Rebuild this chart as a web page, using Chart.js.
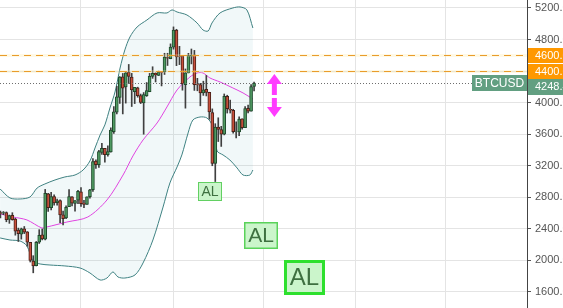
<!DOCTYPE html>
<html>
<head>
<meta charset="utf-8">
<script src="https://cdn.jsdelivr.net/npm/chart.js@4.4.1/dist/chart.umd.min.js"></script>
<style>
  html, body { margin: 0; padding: 0; background: #fff; }
  canvas { display: block; }
</style>
</head>
<body>
<canvas id="chart" width="563" height="308"></canvas>
<script>
// BTCUSD daily candles, 4 Jul 2017 .. 28 Sep 2017 (day 0 = 1 Jul)
const firstDay = 3;
const opens = [
  2500, 2605, 2600, 2608, 2520, 2572, 2525, 2385, 2333, 2402, 2361, 2230, 1992, 1933,
  2233, 2323, 2270, 2845, 2669, 2808, 2733, 2757, 2578, 2539, 2680, 2807, 2724, 2763,
  2871, 2727, 2710, 2807, 2898, 3258, 3213, 3370, 3420, 3342, 3374, 3633, 3880, 4067,
  4327, 4200, 4384, 4324, 4138, 4189, 4090, 3998, 4089, 4138, 4333, 4372, 4346, 4384,
  4389, 4570, 4556,
  4702, 4920, 4585, 4592, 4228, 4377, 4589, 4605, 4230, 4229, 4122, 4169, 4132, 3875,
  3230, 3690, 3660, 3600, 4080, 3916, 3901, 3628, 3630, 3796, 3682, 3928, 3893, 4205
];
const highs = [
  2615, 2625, 2620, 2615, 2575, 2605, 2535, 2410, 2410, 2430, 2365, 2230, 2060, 2240,
  2390, 2398, 2900, 2850, 2862, 2833, 2777, 2768, 2626, 2693, 2897, 2808, 2758, 2890,
  2922, 2762, 2807, 2900, 3290, 3274, 3395, 3484, 3422, 3453, 3680, 3950, 4208, 4330,
  4370, 4390, 4484, 4371, 4184, 4196, 4109, 4128, 4255, 4371, 4455, 4379, 4400, 4395,
  4626, 4626, 4745,
  4960, 4930, 4714, 4592, 4427, 4625, 4680, 4662, 4308, 4245, 4272, 4345, 4132, 3921,
  3733, 3808, 3700, 4110, 4094, 4032, 3916, 3758, 3819, 3796, 3950, 3969, 4230, 4262
];
const lows = [
  2495, 2540, 2580, 2490, 2470, 2510, 2320, 2240, 2270, 2340, 2180, 1980, 1843, 1930,
  2215, 2260, 2260, 2621, 2640, 2700, 2700, 2480, 2450, 2529, 2680, 2692, 2623, 2720,
  2686, 2668, 2710, 2789, 2874, 3167, 3180, 3345, 3247, 3323, 3372, 3610, 3857, 3990,
  3857, 3994, 4243, 3951, 3988, 4069, 3988, 3600, 4079, 4138, 4308, 4262, 4343, 4212,
  4357, 4471, 4556,
  4678, 4469, 4482, 4158, 3930, 4377, 4491, 4155, 4150, 3960, 4092, 4085, 3789, 3200,
  3000, 3507, 3445, 3591, 3868, 3868, 3613, 3554, 3581, 3665, 3682, 3869, 3893, 4150
];
const closes = [
  2600, 2595, 2608, 2518, 2570, 2518, 2372, 2338, 2399, 2358, 2233, 1999, 1930, 2228,
  2319, 2273, 2850, 2668, 2810, 2730, 2755, 2576, 2529, 2672, 2809, 2726, 2757, 2875,
  2718, 2711, 2805, 2896, 3253, 3214, 3379, 3420, 3342, 3381, 3651, 3885, 4073, 4325,
  4182, 4377, 4332, 4161, 4194, 4088, 4002, 4101, 4152, 4335, 4372, 4352, 4383, 4383,
  4579, 4565, 4703,
  4920, 4579, 4583, 4236, 4377, 4597, 4600, 4229, 4226, 4123, 4161, 4131, 3883, 3230,
  3690, 3660, 3600, 4080, 3925, 3906, 3631, 3631, 3792, 3683, 3926, 3892, 4205, 4248.4
];

// bollinger bands and moving average
const upperDays = [3.9, 7.2, 10.6, 13.9, 16.3, 18.9, 22.3, 25.6, 29.0, 31.7, 34.0, 35.7, 37.4, 39.0, 40.7, 42.4, 44.1, 45.7,
  47.4, 49.8, 53.1, 56.5, 59.8, 61.5, 63.2, 66.5, 69.9, 71.9, 73.6, 74.9, 77.6, 81.9, 84.3, 86.6, 88.6];
const upperBand = [2906, 2792, 2779, 2804, 2918, 2969, 3020, 3058, 3083, 3146, 3261, 3425, 3590, 3717, 3932, 4135, 4439, 4668,
  4832, 4959, 5048, 5137, 5137, 5175, 5149, 5111, 5010, 4921, 4908, 5010, 5137, 5200, 5213, 5175, 4946];
const lowerDays = [3.9, 7.2, 10.6, 12.9, 14.9, 17.3, 20.6, 25.6, 30.7, 34.0, 37.4, 39.7, 41.7, 43.4, 45.7, 49.1, 51.8,
  55.1, 58.5, 60.8, 63.2, 64.8, 66.9, 68.5, 70.9, 73.2, 74.9, 76.6, 78.6, 80.9, 83.3, 85.3, 87.6, 88.6];
const lowerBand = [2285, 2259, 2246, 2183, 1993, 1955, 1942, 1930, 1904, 1841, 1752, 1777, 1854, 1790, 1777, 1816, 1968,
  2259, 2677, 2982, 3185, 3337, 3616, 3780, 3818, 3806, 3717, 3387, 3337, 3273, 3172, 3083, 3083, 3146];
const smaDays = [3.9, 8.2, 12.9, 17.9, 19.6, 26.3, 33.3, 39.7, 45.1, 48.4, 51.8, 56.5, 59.8, 63.2, 67.5, 69.9, 71.9,
  74.2, 77.6, 81.9, 85.3, 88.6];
const smaLine = [2589, 2551, 2513, 2411, 2424, 2487, 2551, 2766, 3083, 3324, 3527, 3742, 3945, 4161, 4325, 4376, 4376,
  4313, 4262, 4186, 4123, 4046];

// axes
const monthStarts = [31, 62, 92, 123, 153]; // 1 Aug .. 1 Dec
const priceTicks = [1600, 2000, 2400, 2800, 3200, 3600, 4000, 4400, 4800, 5200];

// horizontal levels, symbol and markers
const levels = [4600, 4400];
const symbol = 'BTCUSD';
const signalDay = 76; // 15 Sep
const alDays = [91.3, 105.9];
const alPrices = [2316, 1784];
const arrowDay = 95.8;
const arrowUp = [4097, 4363];
const arrowDown = [4059, 3818];

const wickData = lows.map((lo, i) => ({ x: firstDay + i, y: [lo, highs[i]] }));
const bodyData = opens.map((o, i) => ({ x: firstDay + i, y: [o, closes[i]] }));
const pts = (days, vals) => days.map((d, i) => ({ x: d, y: vals[i] }));
const isUp = i => closes[i] >= opens[i];

const FONT = 'Liberation Sans, Arial, sans-serif';

function box(ctx, x, y, w, h, fill, stroke, lw) {
  ctx.fillStyle = fill;
  ctx.fillRect(x, y, w, h);
  ctx.lineWidth = lw;
  ctx.strokeStyle = stroke;
  ctx.strokeRect(x + lw / 2, y + lw / 2, w - lw, h - lw);
}

function alBox(ctx, cx, top, w, h, size, lw, stroke) {
  const x = Math.round(cx - w / 2), y = Math.round(top);
  box(ctx, x, y, w, h, '#cbf5cb', stroke, lw);
  ctx.fillStyle = '#3e7040';
  ctx.font = size + 'px ' + FONT;
  ctx.textAlign = 'center';
  ctx.textBaseline = 'middle';
  ctx.fillText('AL', x + w / 2, y + h / 2 + 1);
}

function arrow(ctx, cx, yFrom, yTo) {
  // yFrom = tail, yTo = tip
  const dir = yTo < yFrom ? -1 : 1;
  const head = 10;
  ctx.fillStyle = '#ff3cff';
  ctx.fillRect(cx - 2.5, Math.min(yFrom, yTo - dir * head), 5, Math.abs(yTo - dir * head - yFrom));
  ctx.beginPath();
  ctx.moveTo(cx, yTo);
  ctx.lineTo(cx - 7.5, yTo - dir * head);
  ctx.lineTo(cx + 7.5, yTo - dir * head);
  ctx.closePath();
  ctx.fill();
}

function hline(ctx, a, py, color, dash, width) {
  ctx.strokeStyle = color;
  ctx.lineWidth = width;
  ctx.setLineDash(dash);
  ctx.beginPath();
  ctx.moveTo(a.left, py);
  ctx.lineTo(a.right, py);
  ctx.stroke();
}

const overlay = {
  id: 'overlay',
  afterDatasetsDraw(chart) {
    const { ctx, chartArea: a, scales: { y } } = chart;
    ctx.save();
    levels.forEach(v => {
      const py = Math.round(y.getPixelForValue(v)) + 0.5;
      hline(ctx, a, py, 'rgba(255,230,150,0.25)', [], 3);
      hline(ctx, a, py, '#e99c2c', [7, 5], 1);
    });
    hline(ctx, a, Math.round(y.getPixelForValue(closes[closes.length - 1])) + 0.5, '#6e6e6e', [1, 2], 1);
    ctx.restore();
  },
  afterDraw(chart) {
    const { ctx, chartArea: a, scales: { x, y } } = chart;
    ctx.save();
    ctx.setLineDash([]);

    // AL markers
    const si = signalDay - firstDay;
    alBox(ctx, x.getPixelForValue(signalDay) - 5, y.getPixelForValue(lows[si]), 24, 19, 14, 1, '#62d062');
    alBox(ctx, x.getPixelForValue(alDays[0]), y.getPixelForValue(alPrices[0]) - 13.5, 34, 27, 21, 1.5, '#5ad25a');
    alBox(ctx, x.getPixelForValue(alDays[1]), y.getPixelForValue(alPrices[1]) - 17.5, 41, 35, 24, 3, '#2ee02e');

    // arrows
    const ax = x.getPixelForValue(arrowDay);
    arrow(ctx, ax, y.getPixelForValue(arrowUp[0]), y.getPixelForValue(arrowUp[1]));
    arrow(ctx, ax, y.getPixelForValue(arrowDown[0]), y.getPixelForValue(arrowDown[1]));

    // price labels on the axis
    const last = closes[closes.length - 1];
    const bx = a.right + 1, bw = chart.width - bx, bh = 15;
    ctx.font = '11px ' + FONT;
    ctx.textAlign = 'left';
    ctx.textBaseline = 'middle';
    let prev = -100;
    levels.forEach(v => {
      const cy = Math.max(y.getPixelForValue(v), prev + bh);
      ctx.fillStyle = '#ff9800';
      ctx.fillRect(bx, Math.round(cy - bh / 2), bw, bh);
      ctx.fillStyle = '#fff';
      ctx.fillText(v.toFixed(2), a.right + 8, cy + 1);
      prev = cy;
    });
    const ly = y.getPixelForValue(last);
    const cy = Math.max(ly, prev + bh);
    ctx.fillStyle = '#629f81';
    ctx.fillRect(bx, Math.round(cy - bh / 2), bw, bh + 1);
    ctx.fillStyle = '#fff';
    ctx.fillText(last.toFixed(2), a.right + 8, cy + 1);

    // symbol tag
    ctx.fillStyle = '#629f81';
    ctx.fillRect(a.right - 55, Math.round(ly - 8), 55, 16);
    ctx.fillStyle = '#fff';
    ctx.font = '12px ' + FONT;
    ctx.textAlign = 'center';
    ctx.fillText(symbol, a.right - 27.5, ly + 1);
    ctx.restore();
  }
};

new Chart(document.getElementById('chart'), {
  type: 'bar',
  data: {
    datasets: [
      {
        type: 'bar', label: 'wick', data: wickData,
        backgroundColor: '#404040', barThickness: 1, grouped: false, order: 1
      },
      {
        type: 'bar', label: 'body', data: bodyData,
        backgroundColor: c => isUp(c.dataIndex) ? '#4f9a62' : '#c8503c',
        borderColor: c => isUp(c.dataIndex) ? '#1f4a2c' : '#4a2018',
        borderWidth: 1, borderSkipped: false, barThickness: 3, grouped: false, order: 0
      },
      {
        type: 'line', label: 'sma', data: pts(smaDays, smaLine),
        borderColor: '#e044e0', borderWidth: 1, pointRadius: 0, tension: 0.3, fill: false, order: 2
      },
      {
        type: 'line', label: 'upper', data: pts(upperDays, upperBand),
        borderColor: '#3e8080', borderWidth: 1, pointRadius: 0, tension: 0.3,
        fill: '+1', backgroundColor: 'rgba(80,165,175,0.08)', order: 3
      },
      {
        type: 'line', label: 'lower', data: pts(lowerDays, lowerBand),
        borderColor: '#3e8080', borderWidth: 1, pointRadius: 0, tension: 0.3, fill: false, order: 3
      }
    ]
  },
  options: {
    responsive: false,
    animation: false,
    devicePixelRatio: 1,
    layout: { padding: 0 },
    plugins: { legend: { display: false }, tooltip: { enabled: false } },
    scales: {
      x: {
        type: 'linear', min: 3.86, max: 180.46, offset: false,
        grid: { color: '#e4e4e4', drawTicks: false, offset: false },
        border: { display: false },
        ticks: { display: false },
        afterBuildTicks: s => { s.ticks = monthStarts.map(v => ({ value: v })); },
        afterFit: s => { s.height = 0; s.paddingLeft = 0; s.paddingRight = 0; }
      },
      y: {
        position: 'right', min: 1397, max: 5301,
        grid: { color: '#e4e4e4', tickColor: '#555', tickLength: 4 },
        border: { color: '#444' },
        ticks: {
          color: '#555', padding: 4,
          font: { family: FONT, size: 11 },
          callback: v => v.toFixed(2)
        },
        afterBuildTicks: s => { s.ticks = priceTicks.map(v => ({ value: v })); },
        afterFit: s => { s.width = 36; s.paddingTop = 0; s.paddingBottom = 0; }
      }
    }
  },
  plugins: [overlay]
});
</script>
</body>
</html>
